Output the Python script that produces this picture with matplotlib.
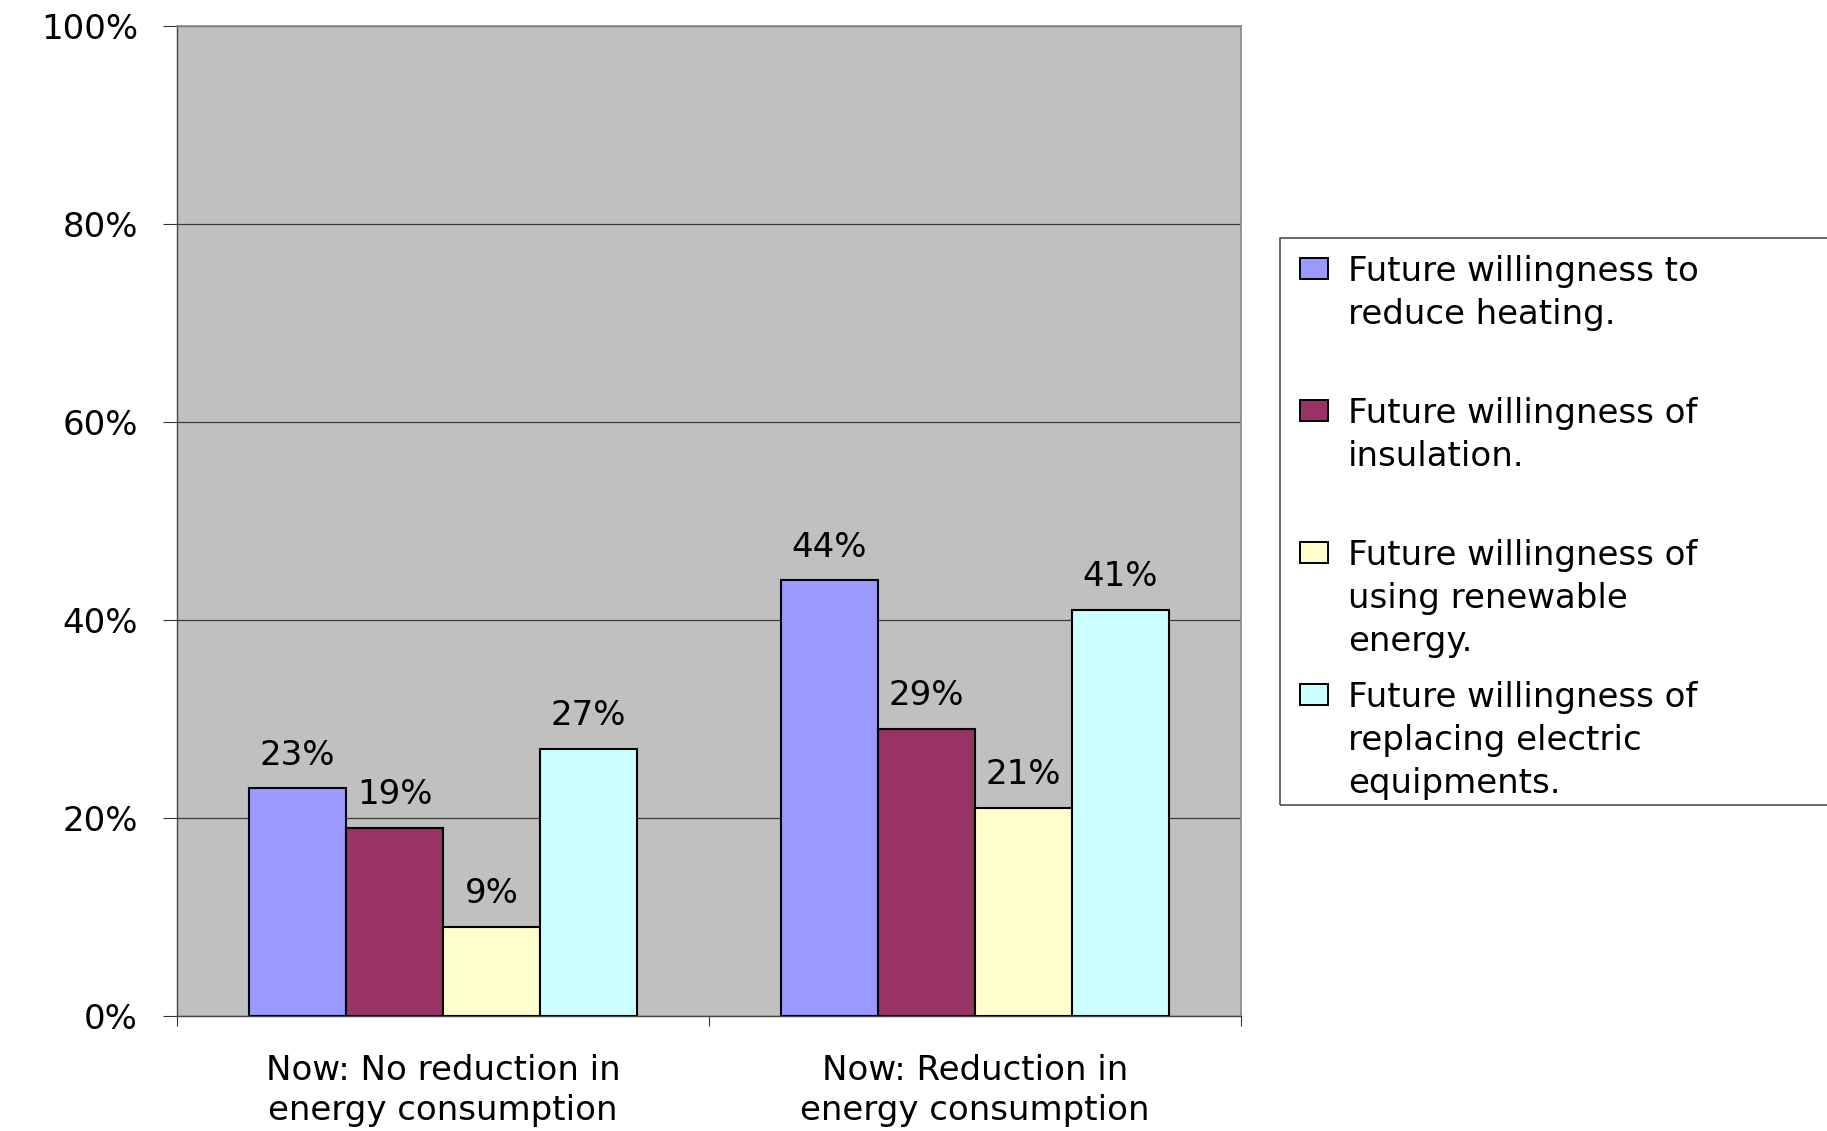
import numpy as np
import matplotlib
matplotlib.use("Agg")
import matplotlib.pyplot as plt
from matplotlib.patches import Rectangle

plt.rcParams['font.family'] = ['DejaVu Sans']

# survey answers, percent of respondents
groups = ["Now: No reduction in\nenergy consumption",
          "Now: Reduction in\nenergy consumption"]
series = ["Future willingness to\nreduce heating.",
          "Future willingness of\ninsulation.",
          "Future willingness of\nusing renewable\nenergy.",
          "Future willingness of\nreplacing electric\nequipments."]
reduce_heating = [23, 44]
insulation = [19, 29]
renewable = [9, 21]
replace_equipment = [27, 41]
yticks = [0, 20, 40, 60, 80, 100]

values = [reduce_heating, insulation, renewable, replace_equipment]
colors = ['#9999FF', '#993366', '#FFFFCC', '#CCFFFF']

W, H = 1827, 1131
fig = plt.figure(figsize=(W / 100, H / 100), dpi=100)
ax = fig.add_axes([177 / W, 1 - 1016 / H, (1241 - 177) / W, (1016 - 26) / H])
ax.set_facecolor('#C0C0C0')

x = np.arange(len(groups))
width = 0.1823
for i, (vals, col) in enumerate(zip(values, colors)):
    pos = x + (i - 1.5) * width
    ax.bar(pos, vals, width, color=col, edgecolor='black', linewidth=1.5,
           zorder=3)
    for px, v in zip(pos, vals):
        ax.annotate(f"{v}%", xy=(px, v), xytext=(0, 17), textcoords='offset points',
                    ha='center', va='baseline', fontsize=24.5, zorder=4)

ax.set_xlim(-0.5, 1.5)
ax.set_ylim(0, 100)
ax.set_yticks(yticks)
ax.set_yticklabels([f"{t}%" for t in yticks], fontsize=24.5)
ax.yaxis.grid(True, color='#3a3a3a', linewidth=0.9, zorder=1)
ax.set_axisbelow(True)

# category boundaries get the tick marks, labels sit in the middle
ax.set_xticks([-0.5, 0.5, 1.5])
ax.set_xticklabels([])
ax.set_xticks(x, minor=True)
ax.set_xticklabels(groups, minor=True, fontsize=24.5, linespacing=1.3)
ax.tick_params(axis='x', which='major', length=7.5, width=0.8, color='#333333')
ax.tick_params(axis='x', which='minor', length=0, pad=27)
ax.tick_params(axis='y', length=10, width=0.8, color='#333333', pad=18)

for side in ['left', 'bottom']:
    ax.spines[side].set_color('#444444')
    ax.spines[side].set_linewidth(1.0)
for side in ['top', 'right']:
    ax.spines[side].set_color('#888888')
    ax.spines[side].set_linewidth(1.2)

# legend box, entries spaced evenly with the swatch on the first line
fig.add_artist(Rectangle((1280 / W, 1 - 805 / H), (1900 - 1280) / W, (805 - 238) / H,
                         transform=fig.transFigure, fill=False,
                         edgecolor='#404040', linewidth=1.1))
for k, (lab, col) in enumerate(zip(series, colors)):
    base = 281 + 142 * k
    fig.add_artist(Rectangle((1300 / W, 1 - (base - 2.5) / H), 28 / W, 21 / H,
                             transform=fig.transFigure, facecolor=col,
                             edgecolor='black', linewidth=1.4))
    fig.text(1348 / W, 1 - (base - 25.5) / H, lab, fontsize=24.5, va='top', ha='left',
             linespacing=1.38)

fig.savefig("out.png", dpi=100)
